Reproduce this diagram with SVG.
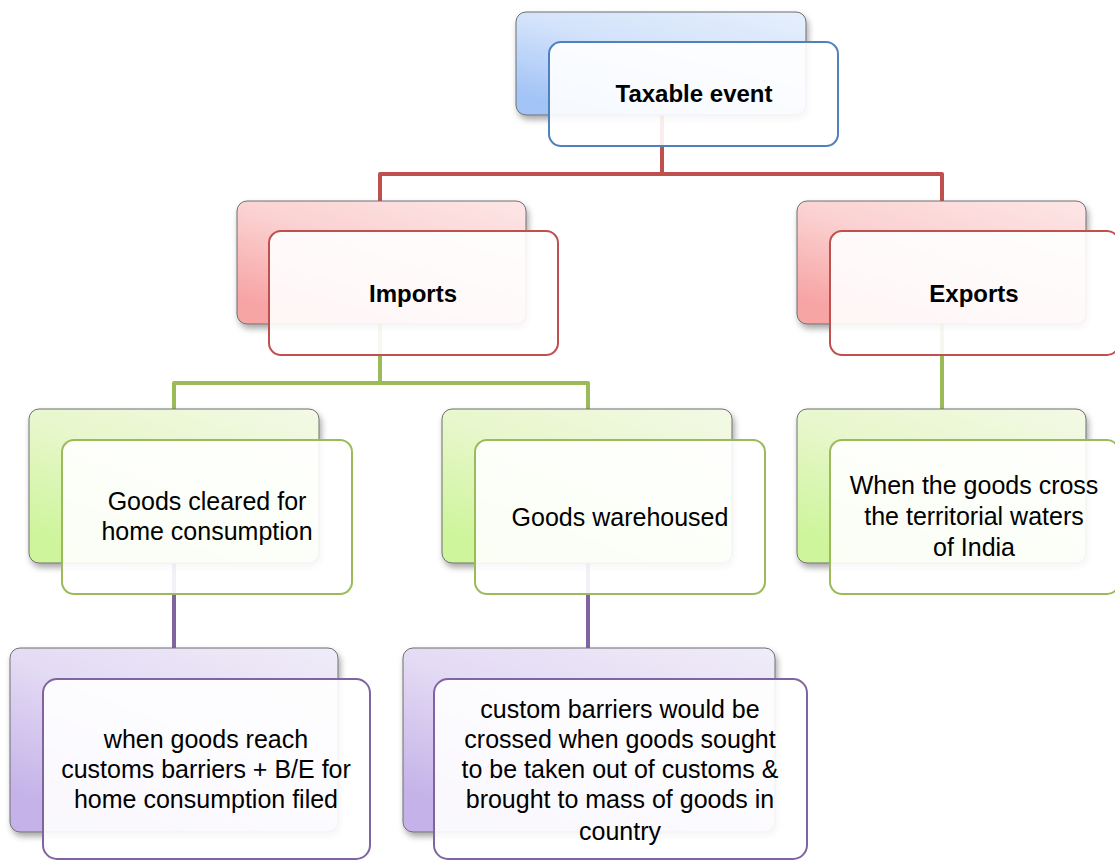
<svg xmlns="http://www.w3.org/2000/svg" width="1115" height="860" viewBox="0 0 1115 860">
<defs>
<linearGradient id="gBlue" x1="1" y1="0" x2="0.3" y2="1"><stop offset="0" stop-color="#e6effc"/><stop offset="0.5" stop-color="#d3e3fb"/><stop offset="1" stop-color="#a3c4f6"/></linearGradient>
<linearGradient id="gRed" x1="1" y1="0" x2="0.3" y2="1"><stop offset="0" stop-color="#fde6e6"/><stop offset="0.5" stop-color="#fbd2d2"/><stop offset="1" stop-color="#f7a4a4"/></linearGradient>
<linearGradient id="gGreen" x1="1" y1="0" x2="0.3" y2="1"><stop offset="0" stop-color="#f3f9e6"/><stop offset="0.5" stop-color="#e8f7cc"/><stop offset="1" stop-color="#cef59c"/></linearGradient>
<linearGradient id="gPurple" x1="1" y1="0" x2="0.3" y2="1"><stop offset="0" stop-color="#f0ecf8"/><stop offset="0.5" stop-color="#e4dbf4"/><stop offset="1" stop-color="#c4b2e8"/></linearGradient>
<filter id="shadow" x="-10%" y="-10%" width="125%" height="130%"><feDropShadow dx="2" dy="4" stdDeviation="3" flood-color="#000" flood-opacity="0.35"/></filter>
</defs>
<style>
.back{stroke:#6f6f6f;stroke-width:1;filter:url(#shadow)}
.front{fill:#ffffff;fill-opacity:0.9;stroke-width:2}
.conn{fill:none;stroke-width:4;stroke-linejoin:round}
text{font-family:"Liberation Sans",Arial,sans-serif;text-anchor:middle;fill:#000}
.b{font-weight:bold;font-size:24px}
.r{font-size:25px}
</style>
<g id="connectors">
<path class="conn" stroke="#c0504d" d="M662 115 V174 M380 201 V174 H942 V201"/>
<path class="conn" stroke="#9bbb59" d="M380 324 V383 M174 409 V383 H588 V409 M942 324 V409"/>
<path class="conn" stroke="#8064a2" d="M174 563 V648 M588 563 V648"/>
</g>
<g id="taxable">
<rect class="back" x="516" y="12" width="290" height="103" rx="10" fill="url(#gBlue)"/>
<rect class="front" x="549" y="42" width="289" height="104" rx="12" stroke="#4f81bd"/>
<text class="b" x="694" y="102">Taxable event</text>
</g>
<g id="imports">
<rect class="back" x="237" y="201" width="289" height="123" rx="10" fill="url(#gRed)"/>
<rect class="front" x="269" y="231" width="289" height="124" rx="12" stroke="#c0504d"/>
<text class="b" x="413" y="302">Imports</text>
</g>
<g id="exports">
<rect class="back" x="797" y="201" width="289" height="123" rx="10" fill="url(#gRed)"/>
<rect class="front" x="830" y="231" width="289" height="124" rx="12" stroke="#c0504d"/>
<text class="b" x="974" y="302">Exports</text>
</g>
<g id="home">
<rect class="back" x="29" y="409" width="290" height="154" rx="10" fill="url(#gGreen)"/>
<rect class="front" x="62" y="440" width="290" height="154" rx="12" stroke="#9bbb59"/>
<text class="r" x="207" y="510">Goods cleared for</text>
<text class="r" x="207" y="540">home consumption</text>
</g>
<g id="warehoused">
<rect class="back" x="442" y="409" width="290" height="154" rx="10" fill="url(#gGreen)"/>
<rect class="front" x="475" y="440" width="290" height="154" rx="12" stroke="#9bbb59"/>
<text class="r" x="620" y="526">Goods warehoused</text>
</g>
<g id="territorial">
<rect class="back" x="797" y="409" width="289" height="154" rx="10" fill="url(#gGreen)"/>
<rect class="front" x="830" y="440" width="289" height="154" rx="12" stroke="#9bbb59"/>
<text class="r" x="974" y="494">When the goods cross</text>
<text class="r" x="974" y="525">the territorial waters</text>
<text class="r" x="974" y="556">of India</text>
</g>
<g id="barriers">
<rect class="back" x="10" y="648" width="328" height="184" rx="10" fill="url(#gPurple)"/>
<rect class="front" x="43" y="679" width="327" height="180" rx="14" stroke="#8064a2"/>
<text class="r" x="206" y="748">when goods reach</text>
<text class="r" x="206" y="778">customs barriers + B/E for</text>
<text class="r" x="206" y="808">home consumption filed</text>
</g>
<g id="crossed">
<rect class="back" x="403" y="648" width="372" height="184" rx="10" fill="url(#gPurple)"/>
<rect class="front" x="434" y="679" width="373" height="180" rx="14" stroke="#8064a2"/>
<text class="r" x="620" y="718">custom barriers would be</text>
<text class="r" x="620" y="748">crossed when goods sought</text>
<text class="r" x="620" y="778">to be taken out of customs &amp;</text>
<text class="r" x="620" y="808">brought to mass of goods in</text>
<text class="r" x="620" y="840">country</text>
</g>
</svg>
